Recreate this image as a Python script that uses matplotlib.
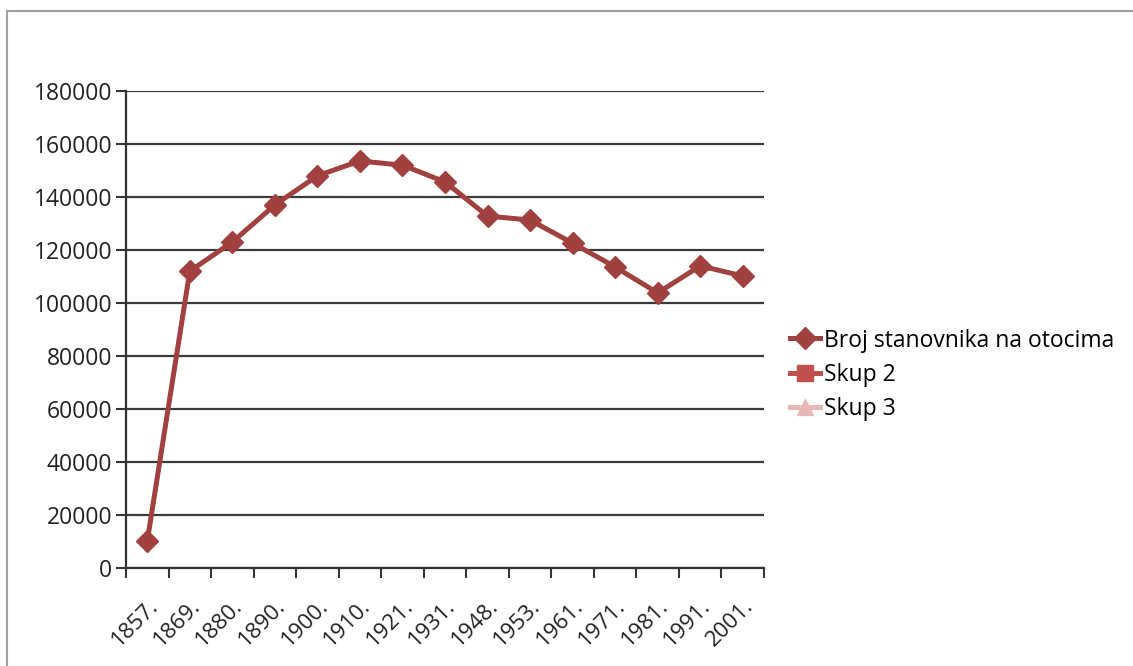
import numpy as np
import matplotlib.pyplot as plt
from matplotlib.lines import Line2D

years = ["1857.", "1869.", "1880.", "1890.", "1900.", "1910.", "1921.", "1931.",
         "1948.", "1953.", "1961.", "1971.", "1981.", "1991.", "2001."]
population = [10200, 112000, 123000, 137000, 148000, 153600, 152000, 145700,
              132800, 131300, 122600, 113600, 103800, 114000, 110200]
series_names = ["Broj stanovnika na otocima", "Skup 2", "Skup 3"]

plt.rcParams['font.family'] = ['Open Sans', 'DejaVu Sans']

fig = plt.figure(figsize=(11.33, 6.66), dpi=100)
ax = fig.add_axes([126 / 1133, 1 - 568 / 666, (764 - 126) / 1133, (568 - 91) / 666])

# outer frame of the chart area (only top and left visible)
fig.add_artist(Line2D([7 / 1133, 7 / 1133], [0, 1 - 10.5 / 666], color='#a0a0a0', lw=1.5))
fig.add_artist(Line2D([7 / 1133, 1], [1 - 10.5 / 666, 1 - 10.5 / 666], color='#a0a0a0', lw=1.5))

x = np.arange(len(years))
ax.plot(x, population, color='#a0413f', lw=3.6, marker='D', markersize=11.5,
        label=series_names[0], zorder=3)
ax.plot([], [], color='#c0504d', lw=3.6, marker='s', markersize=11, label=series_names[1])
ax.plot([], [], color='#e6b9b8', lw=3.6, marker='^', markersize=11, label=series_names[2])

ax.set_xlim(-0.5, len(years) - 0.5)
ax.set_ylim(0, 180000)
ax.set_yticks(np.arange(0, 180001, 20000))
ax.yaxis.grid(True, color='#3a3a3a', lw=1.6)
ax.set_axisbelow(True)

ax.set_xticks(np.arange(-0.5, len(years), 1.0))
ax.set_xticklabels([])
ax.set_xticks(x, minor=True)
ax.set_xticklabels(years, minor=True, rotation=45, ha='right', va='top',
                   rotation_mode='anchor')
ax.tick_params(axis='x', which='minor', length=0, pad=20, labelsize=16, colors='#222222')
ax.tick_params(axis='x', which='major', length=7, width=1.5, color='#333333')
ax.tick_params(axis='y', length=7, width=1.5, color='#333333', labelsize=16.5,
               labelcolor='#222222', pad=3)

for side in ['top', 'right']:
    ax.spines[side].set_visible(False)
for side in ['left', 'bottom']:
    ax.spines[side].set_color('#333333')
    ax.spines[side].set_linewidth(1.6)

leg = ax.legend(loc='center left', bbox_to_anchor=(1.027, 0.405), frameon=False,
                fontsize=16.5, handlelength=1.3, handletextpad=0.15, labelspacing=0.45,
                borderaxespad=0)

fig.savefig("out.png", dpi=100)
